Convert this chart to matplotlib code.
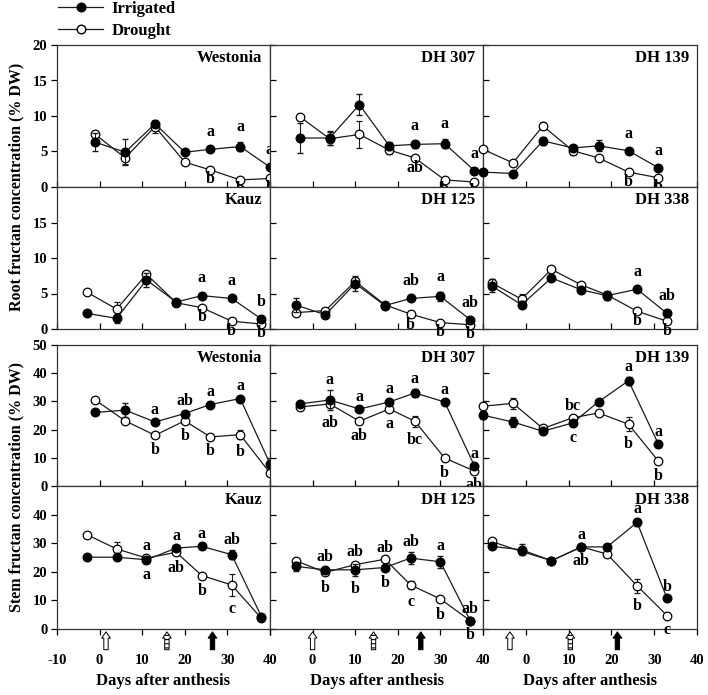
import numpy as np
import matplotlib.pyplot as plt
from matplotlib.lines import Line2D

plt.rcParams['font.family'] = ['Liberation Serif', 'DejaVu Serif']
plt.rcParams['font.weight'] = 'bold'
plt.rcParams['hatch.linewidth'] = 0.8
plt.rcParams['axes.unicode_minus'] = False

# ---- data ----
cultivars = ['Westonia', 'DH 307', 'DH 139', 'Kauz', 'DH 125', 'DH 338']

days_westonia = [-1, 6, 13, 20, 26, 33, 40]
days_dh307 = [-3, 4, 11, 18, 24, 31, 38]
days_dh139 = [-10, -3, 4, 11, 17, 24, 31]
days_kauz = [-3, 4, 11, 18, 24, 31, 38]
days_dh125 = [-4, 3, 10, 17, 23, 30, 37]
days_dh338 = [-8, -1, 6, 13, 19, 26, 33]

# root fructan (% DW)
root_irr_westonia = [6.3, 4.9, 8.9, 4.9, 5.3, 5.7, 2.8]
root_irr_err_westonia = [1.3, 1.8, 0.4, 0.3, 0.3, 0.6, 0.3]
root_dro_westonia = [7.4, 4.1, 8.5, 3.5, 2.4, 1.0, 1.2]
root_dro_err_westonia = [0.3, 0.8, 0.9, 0.2, 0.2, 0.2, 0.2]
root_up_westonia = ['', '', '', '', 'a', 'a', 'a']
root_low_westonia = ['', '', '', '', 'b', 'b', 'b']

root_irr_dh307 = [6.9, 6.9, 11.6, 5.8, 6.0, 6.1, 2.3]
root_irr_err_dh307 = [2.1, 1.0, 1.5, 0.6, 0.5, 0.6, 0.3]
root_dro_dh307 = [9.9, 6.8, 7.4, 5.2, 4.1, 1.0, 0.7]
root_dro_err_dh307 = [0.3, 0.9, 1.9, 0.5, 0.3, 0.2, 0.2]
root_up_dh307 = ['', '', '', '', 'a', 'a', 'a']
root_low_dh307 = ['', '', '', '', 'ab', 'b', 'b']

root_irr_dh139 = [2.1, 1.9, 6.5, 5.5, 5.8, 5.1, 2.7]
root_irr_err_dh139 = [0.2, 0.2, 0.6, 0.3, 0.8, 0.3, 0.3]
root_dro_dh139 = [5.3, 3.4, 8.6, 5.1, 4.1, 2.1, 1.3]
root_dro_err_dh139 = [0.2, 0.2, 0.5, 0.6, 0.3, 0.2, 0.2]
root_up_dh139 = ['', '', '', '', '', 'a', 'a']
root_low_dh139 = ['', '', '', '', '', 'b', 'b']

root_irr_kauz = [2.2, 1.5, 6.9, 3.8, 4.7, 4.3, 1.4]
root_irr_err_kauz = [0.3, 0.6, 1.0, 0.3, 0.4, 0.3, 0.3]
root_dro_kauz = [5.2, 2.8, 7.7, 3.7, 3.0, 1.1, 0.7]
root_dro_err_kauz = [0.2, 1.0, 0.3, 0.5, 0.2, 0.2, 0.2]
root_up_kauz = ['', '', '', '', 'a', 'a', 'b']
root_low_kauz = ['', '', '', '', 'b', 'b', 'b']

root_irr_dh125 = [3.4, 2.0, 6.4, 3.3, 4.3, 4.6, 1.3]
root_irr_err_dh125 = [1.0, 0.3, 1.0, 0.3, 0.4, 0.6, 0.3]
root_dro_dh125 = [2.3, 2.6, 6.7, 3.4, 2.1, 0.9, 0.6]
root_dro_err_dh125 = [0.2, 0.2, 0.5, 0.4, 0.4, 0.2, 0.2]
root_up_dh125 = ['', '', '', '', 'ab', 'a', 'ab']
root_low_dh125 = ['', '', '', '', 'b', 'b', 'b']

root_irr_dh338 = [6.1, 3.4, 7.2, 5.5, 4.7, 5.6, 2.2]
root_irr_err_dh338 = [0.9, 0.5, 0.3, 0.3, 0.6, 0.3, 0.3]
root_dro_dh338 = [6.5, 4.2, 8.4, 6.2, 4.8, 2.5, 1.1]
root_dro_err_dh338 = [0.5, 0.8, 0.3, 0.3, 0.3, 0.2, 0.2]
root_up_dh338 = ['', '', '', '', '', 'a', 'ab']
root_low_dh338 = ['', '', '', '', '', 'b', 'b']

# stem fructan (% DW)
stem_irr_westonia = [26.1, 26.9, 22.7, 25.7, 28.9, 31.0, 7.9]
stem_irr_err_westonia = [1.0, 2.6, 0.8, 0.8, 0.8, 0.8, 2.0]
stem_dro_westonia = [30.5, 23.1, 18.0, 23.1, 17.4, 18.2, 4.6]
stem_dro_err_westonia = [0.5, 0.8, 0.5, 0.8, 0.5, 1.5, 0.5]
stem_up_westonia = ['', '', 'a', 'ab', 'a', 'a', '']
stem_low_westonia = ['', '', 'b', 'b', 'b', 'b', '']

stem_irr_dh307 = [29.1, 30.5, 27.3, 29.8, 33.0, 29.8, 7.1]
stem_irr_err_dh307 = [0.8, 3.5, 0.8, 1.2, 1.5, 0.8, 0.8]
stem_dro_dh307 = [28.0, 29.1, 23.0, 27.3, 23.0, 9.9, 5.3]
stem_dro_err_dh307 = [0.5, 1.0, 0.5, 0.8, 2.0, 0.8, 0.5]
stem_up_dh307 = ['', 'a', 'a', 'a', 'a', 'a', 'a']
stem_low_dh307 = ['', 'ab', 'ab', 'a', 'bc', 'b', 'ab']

stem_irr_dh139 = [25.1, 22.7, 19.4, 22.4, 29.9, 37.3, 14.8]
stem_irr_err_dh139 = [1.5, 1.8, 0.8, 0.8, 0.8, 1.5, 0.8]
stem_dro_dh139 = [28.3, 29.3, 20.4, 24.2, 25.9, 21.9, 8.8]
stem_dro_err_dh139 = [1.0, 2.0, 1.0, 0.8, 0.8, 2.5, 0.5]
stem_up_dh139 = ['', '', '', 'bc', '', 'a', 'a']
stem_low_dh139 = ['', '', '', 'c', '', 'b', 'b']

stem_irr_kauz = [25.1, 25.1, 24.2, 28.3, 28.9, 26.0, 4.3]
stem_irr_err_kauz = [0.8, 0.8, 0.8, 0.8, 0.8, 1.5, 0.5]
stem_dro_kauz = [33.0, 28.0, 24.8, 26.8, 18.7, 15.4, 3.7]
stem_dro_err_kauz = [0.5, 2.3, 0.8, 0.8, 0.8, 3.8, 0.5]
stem_up_kauz = ['', '', 'a', 'a', 'a', 'ab', '']
stem_low_kauz = ['', '', 'a', 'ab', 'b', 'c', '']

stem_irr_dh125 = [21.9, 20.7, 20.7, 21.5, 24.8, 23.5, 2.9]
stem_irr_err_dh125 = [1.5, 1.0, 2.0, 0.8, 2.0, 2.0, 0.5]
stem_dro_dh125 = [23.9, 19.8, 22.5, 24.4, 15.4, 10.5, 2.9]
stem_dro_err_dh125 = [0.5, 0.8, 0.8, 0.5, 1.5, 1.2, 0.5]
stem_up_dh125 = ['', 'ab', 'ab', 'ab', 'ab', 'a', 'ab']
stem_low_dh125 = ['', 'b', 'b', 'b', 'c', 'b', 'b']

stem_irr_dh338 = [28.9, 27.7, 23.9, 28.7, 28.7, 37.3, 10.7]
stem_irr_err_dh338 = [0.8, 2.0, 0.8, 0.5, 0.5, 1.2, 0.5]
stem_dro_dh338 = [30.6, 27.1, 23.9, 28.7, 26.2, 15.1, 4.7]
stem_dro_err_dh338 = [0.5, 0.8, 0.5, 0.5, 0.5, 2.5, 0.5]
stem_up_dh338 = ['', '', '', 'a', '', 'a', 'b']
stem_low_dh338 = ['', '', '', 'ab', '', 'b', 'c']

# growth-stage arrows under each column (days): open, hatched, filled
arrows_col = [[1.5, 15.8, 26.5], [0.0, 14.3, 25.4], [-3.7, 10.4, 21.4]]

days = dict(zip(cultivars, [days_westonia, days_dh307, days_dh139,
                            days_kauz, days_dh125, days_dh338]))
root = {
    'Westonia': (root_irr_westonia, root_irr_err_westonia, root_dro_westonia,
                 root_dro_err_westonia, root_up_westonia, root_low_westonia),
    'DH 307': (root_irr_dh307, root_irr_err_dh307, root_dro_dh307,
               root_dro_err_dh307, root_up_dh307, root_low_dh307),
    'DH 139': (root_irr_dh139, root_irr_err_dh139, root_dro_dh139,
               root_dro_err_dh139, root_up_dh139, root_low_dh139),
    'Kauz': (root_irr_kauz, root_irr_err_kauz, root_dro_kauz,
             root_dro_err_kauz, root_up_kauz, root_low_kauz),
    'DH 125': (root_irr_dh125, root_irr_err_dh125, root_dro_dh125,
               root_dro_err_dh125, root_up_dh125, root_low_dh125),
    'DH 338': (root_irr_dh338, root_irr_err_dh338, root_dro_dh338,
               root_dro_err_dh338, root_up_dh338, root_low_dh338),
}
stem = {
    'Westonia': (stem_irr_westonia, stem_irr_err_westonia, stem_dro_westonia,
                 stem_dro_err_westonia, stem_up_westonia, stem_low_westonia),
    'DH 307': (stem_irr_dh307, stem_irr_err_dh307, stem_dro_dh307,
               stem_dro_err_dh307, stem_up_dh307, stem_low_dh307),
    'DH 139': (stem_irr_dh139, stem_irr_err_dh139, stem_dro_dh139,
               stem_dro_err_dh139, stem_up_dh139, stem_low_dh139),
    'Kauz': (stem_irr_kauz, stem_irr_err_kauz, stem_dro_kauz,
             stem_dro_err_kauz, stem_up_kauz, stem_low_kauz),
    'DH 125': (stem_irr_dh125, stem_irr_err_dh125, stem_dro_dh125,
               stem_dro_err_dh125, stem_up_dh125, stem_low_dh125),
    'DH 338': (stem_irr_dh338, stem_irr_err_dh338, stem_dro_dh338,
               stem_dro_err_dh338, stem_up_dh338, stem_low_dh338),
}

W, H = 708, 695
fig = plt.figure(figsize=(W / 100, H / 100), dpi=100)

col_px = [(57, 270), (270, 483), (483, 697)]
row_px = [(45, 187), (187, 329), (345, 486), (486, 629)]

LINE = '#1a1a1a'
FS_TICK = 10.5
FS_LET = 11.5


def panel(r, c):
    x0, x1 = col_px[c]
    y0, y1 = row_px[r]
    return fig.add_axes([x0 / W, 1 - y1 / H, (x1 - x0) / W, (y1 - y0) / H])


def draw(ax, name, data, up_off, low_off):
    x = np.array(days[name])
    irr, irr_e, dro, dro_e, up, low = [np.array(v) for v in data]
    ax.errorbar(x, dro, yerr=dro_e, color=LINE, lw=0.9, marker='o', ms=6.2,
                mfc='white', mec='black', mew=0.9, capsize=2, elinewidth=0.8,
                zorder=3, clip_on=False)
    ax.errorbar(x, irr, yerr=irr_e, color=LINE, lw=0.9, marker='o', ms=6.2,
                mfc='black', mec='black', capsize=2, elinewidth=0.8,
                zorder=4, clip_on=False)
    top = np.maximum(irr + irr_e, dro + dro_e)
    bot = np.minimum(irr - irr_e, dro - dro_e)
    for i in range(len(x)):
        if up[i]:
            ax.annotate(up[i], (x[i], top[i]), xytext=(0, up_off),
                        textcoords='offset pixels', ha='center', va='center',
                        fontsize=FS_LET, fontweight='bold', zorder=5,
                        annotation_clip=False)
        if low[i]:
            ax.annotate(low[i], (x[i], bot[i]), xytext=(0, -low_off),
                        textcoords='offset pixels', ha='center', va='center',
                        fontsize=FS_LET, fontweight='bold', zorder=5,
                        annotation_clip=False)
    ax.text(0.962, 0.905, name, transform=ax.transAxes, ha='right',
            va='center', fontsize=12, fontweight='bold')


for r in range(4):
    for c in range(3):
        ax = panel(r, c)
        name = cultivars[(r % 2) * 3 + c]
        if r < 2:
            draw(ax, name, root[name], 15, 8)
            ax.set_ylim(0, 20)
            yt = [0, 5, 10, 15, 20] if r == 0 else [0, 5, 10, 15]
        else:
            draw(ax, name, stem[name], 10, 13)
            ax.set_ylim(0, 50)
            yt = [0, 10, 20, 30, 40, 50] if r == 2 else [0, 10, 20, 30, 40]
        ax.set_xlim(-10, 40)
        ax.set_xticks([-10, 0, 10, 20, 30, 40])
        ax.set_yticks(yt)
        for s in ax.spines.values():
            s.set_linewidth(0.9)
            s.set_color('#333333')
        ax.tick_params(axis='y', direction='out' if c == 0 else 'in',
                       length=4, width=0.9, labelsize=FS_TICK,
                       labelleft=(c == 0), pad=3)
        ax.tick_params(axis='x', direction='out' if r == 3 else 'in',
                       length=4, width=0.9, labelsize=FS_TICK,
                       labelbottom=(r == 3), pad=14)
        for lab in ax.get_yticklabels() + ax.get_xticklabels():
            lab.set_fontweight('bold')
        if r == 3:
            if c > 0:
                ax.set_xticklabels(['', '0', '10', '20', '30', '40'])
            for k, xa in enumerate(arrows_col[c]):
                fc = 'black' if k == 2 else 'white'
                props = dict(arrowstyle='simple,head_length=0.5,head_width=0.7,tail_width=0.35',
                             fc=fc, ec='black', lw=0.7, mutation_scale=9,
                             shrinkA=0, shrinkB=0)
                if k == 1:
                    props['hatch'] = '----'
                ax.annotate('', xy=(xa, -0.02), xytext=(xa, -0.145),
                            xycoords=('data', 'axes fraction'),
                            textcoords=('data', 'axes fraction'),
                            arrowprops=props, annotation_clip=False)
            xc = (col_px[c][0] + col_px[c][1]) / 2 / W
            fig.text(xc, 1 - 681 / H, 'Days after anthesis', ha='center',
                     va='center', fontsize=12, fontweight='bold')

fig.text(16 / W, 1 - 187 / H, 'Root fructan concentration (% DW)',
         rotation=90, ha='center', va='center', fontsize=11.5,
         fontweight='bold')
fig.text(16 / W, 1 - 487 / H, 'Stem fructan concentration (% DW)',
         rotation=90, ha='center', va='center', fontsize=11.5,
         fontweight='bold')

handles = [Line2D([], [], color=LINE, lw=0.9, marker='o', ms=6.2,
                  mfc='black', mec='black'),
           Line2D([], [], color=LINE, lw=0.9, marker='o', ms=6.2,
                  mfc='white', mec='black')]
fig.legend(handles, ['Irrigated', 'Drought'], loc='upper left',
           bbox_to_anchor=(58 / W, 1 - 1 / H), frameon=False, borderpad=0,
           borderaxespad=0, handlelength=2.7, handletextpad=0.5,
           labelspacing=0.35, prop=dict(weight='bold', size=12))

fig.savefig('out.png', dpi=100)
